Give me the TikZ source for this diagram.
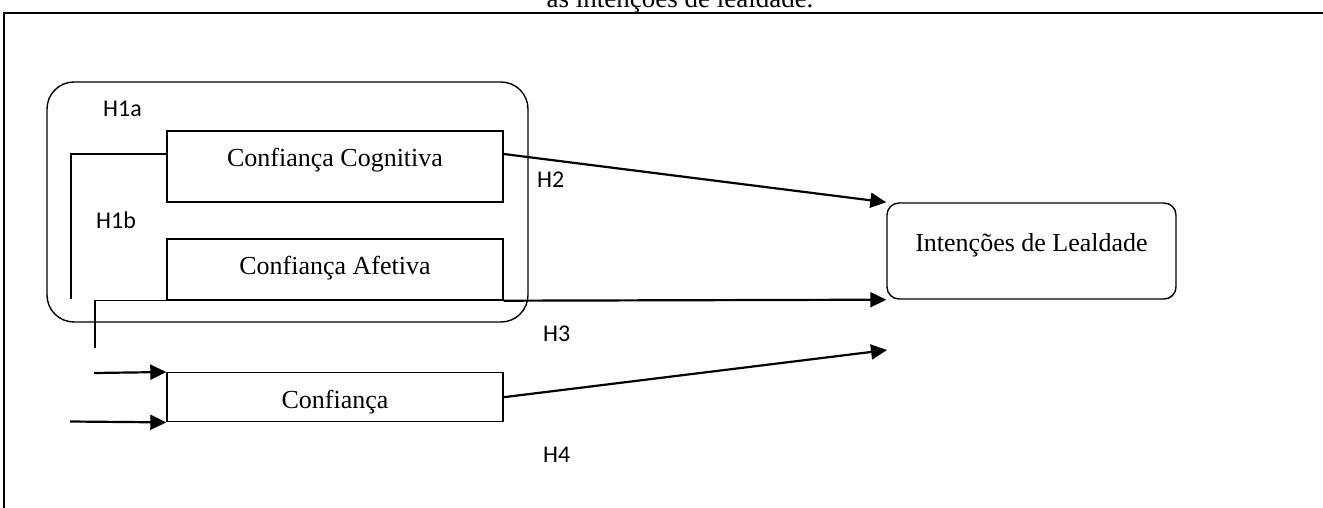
\documentclass[tikz,border=0pt]{standalone}
\usepackage{fontspec}
\setmainfont{Liberation Serif}
\newfontfamily\calib{Carlito}
\usetikzlibrary{arrows.meta}
\begin{document}
\begin{tikzpicture}[x=1pt,y=-1pt,
  box/.style={draw, line width=1.4pt, minimum width=336pt, inner sep=0pt,
    font=\fontsize{26}{30}\selectfont},
  hlab/.style={font=\calib\fontsize{24}{28}\selectfont, inner sep=0pt, anchor=base west},
  conn/.style={line width=1.4pt},
  arr/.style={line width=2.2pt, -{Triangle[length=16pt,width=15pt]}},
]
\useasboundingbox (0,0) rectangle (1323,508);
% frame
\draw[line width=2.4pt] (4,508) -- (4,13) -- (1323,13);
\node[anchor=base, inner sep=0pt, font=\fontsize{27}{30}\selectfont] (title) at (680,8) {as intenções de lealdade.};
% container
\node[draw, line width=1.4pt, rounded corners=27pt, minimum width=481pt, minimum height=240pt, inner sep=0pt] (grp) at (287.5,202) {};
% boxes
\node[box, minimum height=71pt, text height=18pt, text depth=18pt] (cog) at (335,166.5) {Confiança Cognitiva};
\node[box, minimum height=61pt, text height=20pt, text depth=11pt] (afe) at (335,269.5) {Confiança Afetiva};
\node[box, minimum height=49pt, text height=22pt, text depth=0pt] (conf) at (335,397.2) {Confiança};
\node[box, minimum width=289pt, minimum height=96pt, rounded corners=12pt, text height=18pt, text depth=18pt] (int) at (1031.5,251) {Intenções de Lealdade};
% labels
\node[hlab] (h1a) at (103,117) {H1a};
\node[hlab] (h1b) at (96,228) {H1b};
\node[hlab] (h2) at (537,188) {H2};
\node[hlab] (h3) at (543,341.5) {H3};
\node[hlab] (h4) at (543,462.7) {H4};
% free ends
\coordinate (h1aend) at (71,299);
\coordinate (h1bend) at (95,348);
\coordinate (a1) at (94,373);
\coordinate (a2) at (70,421.5);
\coordinate (h4end) at (887,350);
% connectors
\draw[conn] ([yshift=12.5pt]cog.west) -| (h1aend);
\draw[conn] (afe.south west) -| (h1bend);
\draw[arr] (a1) -- (conf.north west);
\draw[arr] (a2) -- (conf.south west);
\draw[arr] ([yshift=12.5pt]cog.east) -- (int.north west);
\draw[arr] (afe.south east) -- (int.south west);
\draw[arr] (conf.east) -- (h4end);
\end{tikzpicture}
\end{document}
